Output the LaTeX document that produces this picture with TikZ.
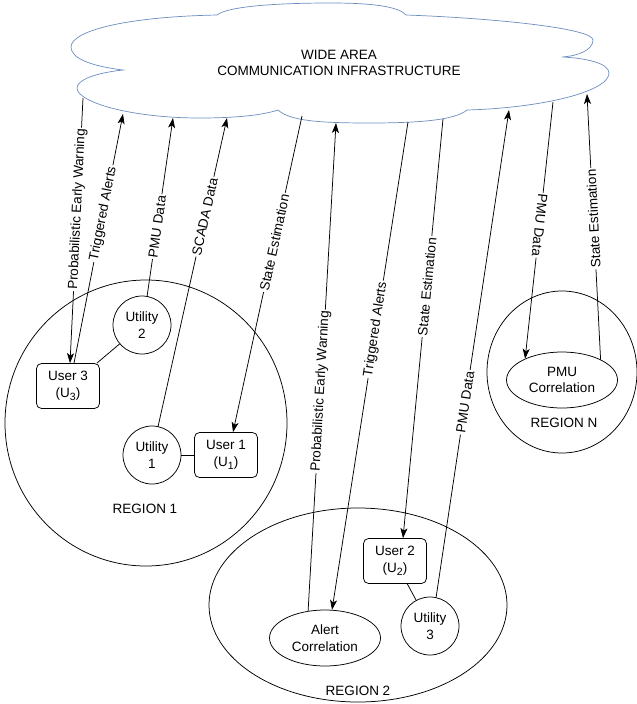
\documentclass[tikz,border=0pt]{standalone}
\usepackage{fontspec}
\setmainfont{Liberation Sans}
\usetikzlibrary{arrows.meta,shapes.geometric}
\definecolor{cloudc}{RGB}{108,142,191}
\newcommand{\mysub}[1]{\raisebox{-0.45ex}{\fontsize{10.5}{10.5}\selectfont #1}}
\begin{document}
\begin{tikzpicture}[x=1pt,y=1pt,line width=0.75pt,
  txt/.style={font=\fontsize{13.5}{16.5}\selectfont, align=center},
  util/.style={txt, draw, circle, minimum size=58pt, inner sep=0pt},
  user/.style={txt, draw, rounded corners=5pt, minimum width=63pt, minimum height=45pt, inner sep=0pt},
  corr/.style={txt, draw, ellipse, minimum width=111pt, minimum height=56pt, inner sep=0pt},
  region/.style={draw, ellipse, inner sep=0pt},
  lbl/.style={txt, sloped, allow upside down, fill=white, inner sep=1.5pt},
  arr/.style={-{Stealth[length=10pt,width=7pt,inset=2.5pt]}},
  arrb/.style={{Stealth[length=10pt,width=7pt,inset=2.5pt]}-}]
\useasboundingbox (0,0) rectangle (637,-704);

% regions
\node[region, minimum width=282pt, minimum height=286pt] (r1) at (146,-423) {};
\node[region, minimum width=298pt, minimum height=194pt] (r2) at (358,-605) {};
\node[region, minimum width=150pt, minimum height=162pt] (rn) at (562,-372) {};
\node[txt] (r1lbl) at (145,-509) {REGION 1};
\node[txt] (r2lbl) at (358,-691) {REGION 2};
\node[txt] (rnlbl) at (564,-423) {REGION N};

% cloud
\draw[cloudc, fill=white, line width=0.7pt]
  (123,-70) .. controls (90,-66) and (71,-58) .. (71,-47)
  .. controls (71,-32) and (120,-17) .. (217,-15)
  .. controls (228,-6) and (280,-3) .. (330,-3)
  .. controls (370,-3) and (398,-6) .. (406,-15)
  .. controls (490,-18) and (593,-28) .. (593,-40)
  .. controls (593,-50) and (578,-56) .. (562,-57)
  .. controls (585,-58) and (609,-63) .. (609,-73)
  .. controls (609,-92) and (540,-108) .. (467,-110)
  .. controls (455,-120) and (420,-123) .. (370,-123)
  .. controls (320,-123) and (290,-121) .. (278,-110)
  .. controls (260,-116) and (230,-118) .. (200,-118)
  .. controls (130,-118) and (77,-102) .. (77,-88)
  .. controls (77,-80) and (95,-73) .. cycle;
\node[txt, align=center] (wan) at (339,-63) {WIDE AREA\\COMMUNICATION INFRASTRUCTURE};

\coordinate (c1) at (83,-98);
\coordinate (c2) at (123,-114);
\coordinate (c3) at (173,-118);
\coordinate (c4) at (227,-118);
\coordinate (c5) at (302,-116);
\coordinate (c6) at (336,-123);
\coordinate (c7) at (408,-122);
\coordinate (c8) at (443,-119);
\coordinate (c9) at (509,-110);
\coordinate (c10) at (553,-102);
\coordinate (c11) at (587,-94);

% nodes
\node[util] (u2) at (142,-325) {Utility\\2};
\node[user] (us3) at (68,-386) {User 3\\(U\mysub{3})};
\node[util] (u1) at (152,-455) {Utility\\1};
\node[user] (us1) at (226,-455) {User 1\\(U\mysub{1})};
\node[user] (us2) at (395,-561) {User 2\\(U\mysub{2})};
\node[util] (u3) at (430,-626) {Utility\\3};
\node[corr] (ac) at (325,-638) {Alert\\Correlation};
\node[corr] (pc) at (562,-380) {PMU\\Correlation};

% local links
\draw (u2) -- ([xshift=-3pt]us3.north east);
\draw (u1) -- (us1);
\draw (us2) -- (u3);

% communication links
\draw[arrb] ([xshift=2pt]us3.north) -- node[lbl,pos=0.58]{Probabilistic Early Warning} (c1);
\draw[arr] ([xshift=6pt]us3.north) -- node[lbl,pos=0.6]{Triggered Alerts} (c2);
\draw[arr] (u2.80) -- node[lbl,pos=0.39]{PMU Data} (c3);
\draw[arr] (u1.78) -- node[lbl,pos=0.68]{SCADA Data} (c4);
\draw[arrb] ([xshift=7pt]us1.north) -- node[lbl,pos=0.6]{State Estimation} (c5);
\draw[arr] (ac.122) -- node[lbl,pos=0.45]{Probabilistic Early Warning} (c6);
\draw[arrb] (ac.76) -- node[lbl,pos=0.575]{Triggered Alerts} (c7);
\draw[arrb] ([xshift=8pt]us2.north) -- node[lbl,pos=0.6]{State Estimation} (c8);
\draw[arr] (u3.78) -- node[lbl,pos=0.4]{PMU Data} (c9);
\draw[arr] (c10) -- node[lbl,pos=0.48]{PMU Data} (pc.150);
\draw[arr] (pc.28) -- node[lbl,pos=0.53]{State Estimation} (c11);
\end{tikzpicture}
\end{document}
